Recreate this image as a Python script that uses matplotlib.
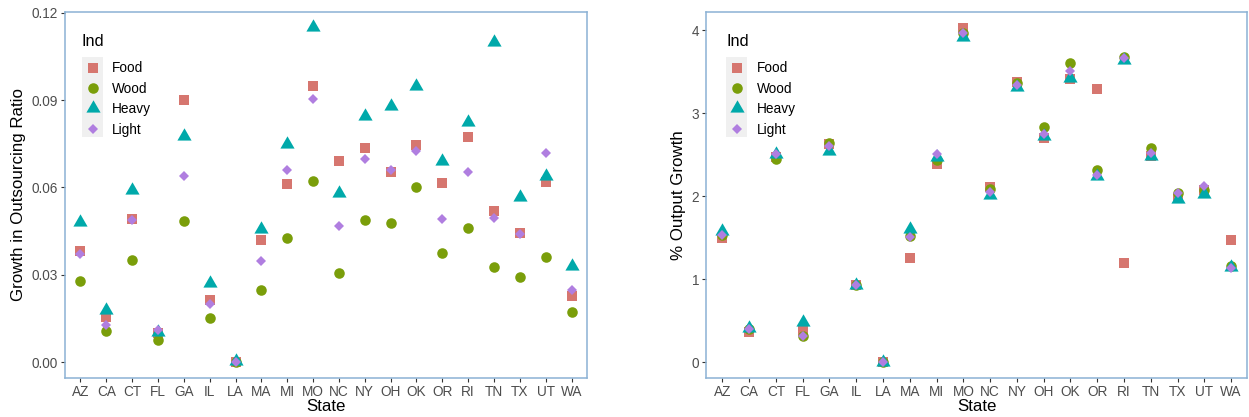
import numpy as np
import matplotlib
matplotlib.use("Agg")
import matplotlib.pyplot as plt
from matplotlib.path import Path

plt.rcParams['font.family'] = ['Liberation Sans', 'DejaVu Sans']

states = ["AZ", "CA", "CT", "FL", "GA", "IL", "LA", "MA", "MI", "MO",
          "NC", "NY", "OH", "OK", "OR", "RI", "TN", "TX", "UT", "WA"]
industries = ["Food", "Wood", "Heavy", "Light"]

# growth in outsourcing ratio
outsourcing = {
    "Food":  [0.0382, 0.0155, 0.0490, 0.0100, 0.0900, 0.0213, 0.0000, 0.0420, 0.0610, 0.0950,
              0.0689, 0.0735, 0.0652, 0.0744, 0.0614, 0.0774, 0.0520, 0.0443, 0.0617, 0.0227],
    "Wood":  [0.0280, 0.0107, 0.0350, 0.0076, 0.0486, 0.0152, 0.0000, 0.0246, 0.0425, 0.0622,
              0.0307, 0.0489, 0.0478, 0.0602, 0.0375, 0.0462, 0.0326, 0.0292, 0.0360, 0.0172],
    "Heavy": [0.0482, 0.0179, 0.0591, 0.0103, 0.0778, 0.0273, 0.0005, 0.0457, 0.0750, 0.1150,
              0.0580, 0.0844, 0.0880, 0.0950, 0.0689, 0.0823, 0.1098, 0.0566, 0.0640, 0.0330],
    "Light": [0.0370, 0.0127, 0.0489, 0.0110, 0.0640, 0.0199, 0.0000, 0.0346, 0.0661, 0.0904,
              0.0469, 0.0699, 0.0660, 0.0726, 0.0492, 0.0653, 0.0496, 0.0439, 0.0718, 0.0247],
}

# % output growth
output_growth = {
    "Food":  [1.50, 0.37, 2.47, 0.38, 2.63, 0.93, 0.00, 1.25, 2.39, 4.03,
              2.11, 3.37, 2.70, 3.41, 3.29, 1.20, 2.49, 1.98, 2.07, 1.47],
    "Wood":  [1.53, 0.40, 2.45, 0.32, 2.64, 0.93, 0.00, 1.52, 2.44, 3.97,
              2.09, 3.36, 2.83, 3.61, 2.31, 3.68, 2.58, 2.04, 2.08, 1.16],
    "Heavy": [1.58, 0.41, 2.51, 0.49, 2.55, 0.93, 0.00, 1.61, 2.47, 3.92,
              2.01, 3.31, 2.72, 3.42, 2.24, 3.64, 2.49, 1.97, 2.03, 1.15],
    "Light": [1.53, 0.40, 2.51, 0.31, 2.61, 0.93, 0.00, 1.51, 2.51, 3.96,
              2.05, 3.34, 2.75, 3.51, 2.25, 3.67, 2.52, 2.04, 2.12, 1.14],
}

# equilateral triangle like R's pch 17 (centred on its centroid)
tri = Path([(0, 0.667), (-0.577, -0.333), (0.577, -0.333), (0, 0.667)],
           [Path.MOVETO, Path.LINETO, Path.LINETO, Path.CLOSEPOLY])

colors = {"Food": "#D6766F", "Wood": "#7A9E0A", "Heavy": "#00A9AA", "Light": "#B07EE0"}
markers = {"Food": "s", "Wood": "o", "Heavy": tri, "Light": "D"}
msizes = {"Food": 7.9, "Wood": 7.6, "Heavy": 11.8, "Light": 4.6}

border = "#8CB2D4"
tick_col = "#4D4D4D"


def draw_panel(ax, data, ylim, yticks, yticklabels, ylabel, leg_x, box_x, box_w):
    x = np.arange(len(states))
    handles = []
    for ind in industries:
        h, = ax.plot(x, data[ind], linestyle="none", marker=markers[ind],
                     markersize=msizes[ind], color=colors[ind],
                     markeredgewidth=0, label=ind)
        handles.append(h)
    ax.set_xlim(-0.6, len(states) - 0.4)
    ax.set_ylim(*ylim)
    ax.set_xticks(x)
    ax.set_xticklabels(states)
    ax.set_yticks(yticks)
    ax.set_yticklabels(yticklabels)
    ax.tick_params(axis="both", colors="#333333", labelcolor=tick_col,
                   labelsize=9.8, length=3, width=0.8, pad=2)
    for sp in ax.spines.values():
        sp.set_color(border)
        sp.set_linewidth(1.1)
    ax.set_xlabel("State", fontsize=12.2, labelpad=0)
    ax.set_ylabel(ylabel, fontsize=12.2, labelpad=4)
    leg = ax.legend(handles=handles, title="Ind", loc="upper left",
                    bbox_to_anchor=(leg_x, 0.94), frameon=False,
                    fontsize=9.8, title_fontsize=11.8, handletextpad=0.68,
                    labelspacing=0.47, borderaxespad=0, borderpad=0,
                    handlelength=1.55)
    leg._legend_box.align = "left"
    leg._legend_box.sep = 9  # gap between title and keys
    # grey key background behind the legend symbols
    ax.add_patch(plt.Rectangle((box_x, 0.658), box_w, 0.219,
                               transform=ax.transAxes, color="#F0F0F0", zorder=0, lw=0))


fig = plt.figure(figsize=(12.49, 4.17), dpi=100)
ax1 = fig.add_axes([0.052, 0.0935, 0.418, 0.878])
ax2 = fig.add_axes([0.5655, 0.0935, 0.433, 0.878])

draw_panel(ax1, outsourcing, (-0.0055, 0.1203), [0, 0.03, 0.06, 0.09, 0.12],
           ["0.00", "0.03", "0.06", "0.09", "0.12"], "Growth in Outsourcing Ratio",
           0.0326, 0.0326, 0.040)
draw_panel(ax2, output_growth, (-0.19, 4.22), [0, 1, 2, 3, 4],
           ["0", "1", "2", "3", "4"], "% Output Growth",
           0.037, 0.037, 0.0388)

fig.savefig("out.png", dpi=100)
